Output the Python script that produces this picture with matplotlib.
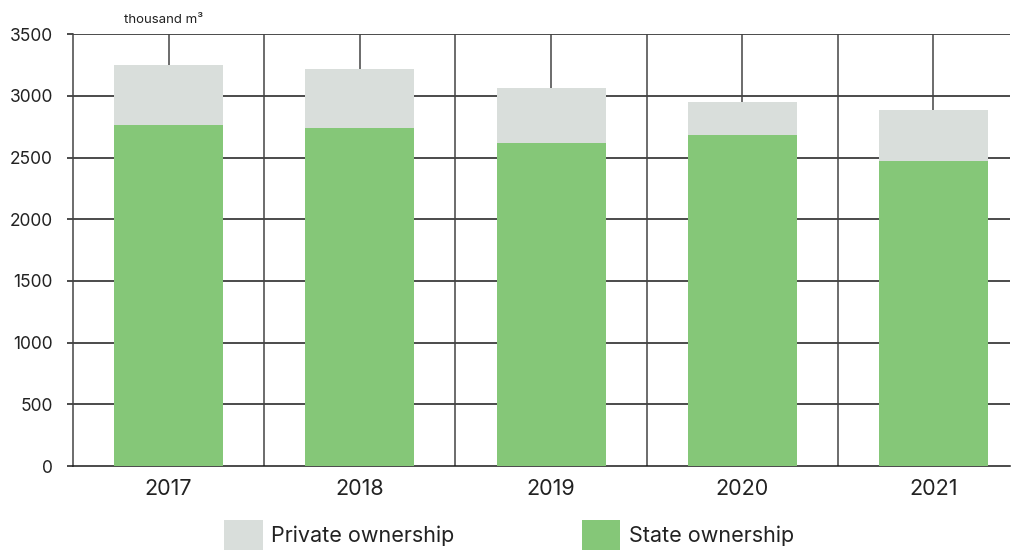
import numpy as np
import matplotlib
matplotlib.use("Agg")
import matplotlib.pyplot as plt
from matplotlib.patches import Patch

# data (thousand m3)
years = ["2017", "2018", "2019", "2020", "2021"]
state = [2765, 2740, 2620, 2685, 2475]
private = [485, 480, 445, 265, 410]

plt.rcParams['font.family'] = ['Inter', 'DejaVu Sans']

green = "#85c778"
grey = "#d9dedb"

fig = plt.figure(figsize=(10.14, 5.5), dpi=100)
ax = fig.add_axes([0.072, 0.1527, 0.924, 0.785])

x = np.arange(len(years))
ax.bar(x, state, width=0.57, color=green, zorder=3)
ax.bar(x, private, width=0.57, bottom=state, color=grey, zorder=3)

ax.set_xlim(-0.5, 4.4)
ax.set_ylim(0, 3500)
ax.set_yticks(range(0, 3501, 500))
ax.set_xticks(x)
ax.set_xticklabels(years)

# gridlines behind bars
for yv in range(500, 3501, 500):
    ax.axhline(yv, color="#1a1a1a", lw=1.1, zorder=1)
for xv in np.arange(0, 4.01, 0.5):
    ax.axvline(xv, color="#444444", lw=1.1, zorder=1)

for s in ["top", "right"]:
    ax.spines[s].set_visible(False)
ax.spines["left"].set_color("#444444")
ax.spines["left"].set_linewidth(1.1)
ax.spines["bottom"].set_color("#1a1a1a")
ax.spines["bottom"].set_linewidth(1.1)

ax.tick_params(axis="y", length=4.5, width=1.1, color="#1a1a1a",
               pad=10, labelsize=12.5, labelcolor="#222222")
ax.tick_params(axis="x", length=0, pad=9, labelsize=15.5, labelcolor="#222222")

fig.text(0.161, 0.964, "thousand m³", ha="center", va="center",
         fontsize=9.5, color="#222222")

handles = [Patch(facecolor=grey, edgecolor="none"),
           Patch(facecolor=green, edgecolor="none")]
fig.legend(handles, ["Private ownership", "State ownership"],
           loc="lower center", bbox_to_anchor=(0.502, -0.035), ncol=2,
           frameon=False, fontsize=15.5, handlelength=1.8,
           handleheight=1.75, handletextpad=0.4, columnspacing=5.9,
           labelcolor="#222222")

fig.savefig("out.png", dpi=100)
